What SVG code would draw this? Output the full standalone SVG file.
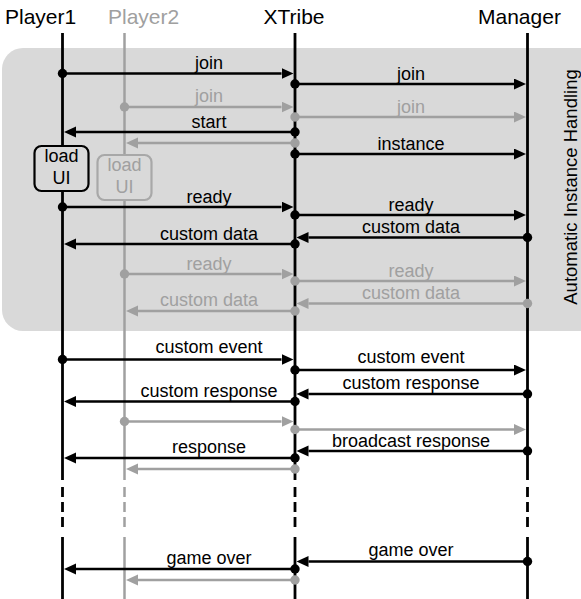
<svg xmlns="http://www.w3.org/2000/svg" width="581" height="599" viewBox="0 0 581 599">
<style>
text{font-family:"Liberation Sans",Arial,sans-serif;}
.hd{font-size:21px;fill:#000;}
.lb{font-size:18px;fill:#000;text-anchor:middle;}
.g{fill:#a0a0a0;}
.life{stroke:#000;stroke-width:2.8;fill:none;}
.lifeg{stroke:#a0a0a0;stroke-width:2.5;fill:none;}
.dash{stroke-dasharray:10 5;}
.m{stroke:#000;stroke-width:2.5;fill:none;marker-start:url(#dot);marker-end:url(#ah);}
.mg{stroke:#a0a0a0;stroke-width:2.5;fill:none;marker-start:url(#dotg);marker-end:url(#ahg);}
.box{fill:#d9d9d9;stroke:#000;stroke-width:2.2;}
.boxg{fill:#d9d9d9;stroke:#a8a8a8;stroke-width:2.2;}
</style>
<defs>
<marker id="ah" markerUnits="userSpaceOnUse" markerWidth="13" markerHeight="12" refX="0" refY="5.5" orient="auto"><path d="M0,0 L12,5.5 L0,11 z" fill="#000"/></marker>
<marker id="ahg" markerUnits="userSpaceOnUse" markerWidth="13" markerHeight="12" refX="0" refY="5.5" orient="auto"><path d="M0,0 L12,5.5 L0,11 z" fill="#a0a0a0"/></marker>
<marker id="dot" markerUnits="userSpaceOnUse" markerWidth="11" markerHeight="11" refX="5.5" refY="5.5"><circle cx="5.5" cy="5.5" r="4.7" fill="#000"/></marker>
<marker id="dotg" markerUnits="userSpaceOnUse" markerWidth="11" markerHeight="11" refX="5.5" refY="5.5"><circle cx="5.5" cy="5.5" r="4.7" fill="#a0a0a0"/></marker>
</defs>
<rect x="0" y="0" width="581" height="599" fill="#fff"/>
<g id="region">
<rect x="2" y="48" width="600" height="283" rx="21" fill="#d9d9d9"/>
<text transform="translate(577,187) rotate(-90)" style="font-size:18.5px;text-anchor:middle;fill:#000">Automatic Instance Handling</text>
</g>
<g id="player1">
<text class="hd" x="5" y="23.5">Player1</text>
<path class="life" d="M62.5,33V480"/><path class="life dash" d="M62.5,487V530"/><path class="life" d="M62.5,537V599"/>
</g>
<g id="player2">
<text class="hd g" x="108" y="23.5">Player2</text>
<path class="lifeg" d="M124.5,33V480"/><path class="lifeg dash" d="M124.5,487V530"/><path class="lifeg" d="M124.5,537V599"/>
</g>
<g id="xtribe">
<text class="hd" x="294" y="23.5" text-anchor="middle">XTribe</text>
<path class="life" d="M295,33V480"/><path class="life dash" d="M295,487V530"/><path class="life" d="M295,537V599"/>
</g>
<g id="manager">
<text class="hd" x="478" y="23.5">Manager</text>
<path class="life" d="M527.5,33V480"/><path class="life dash" d="M527.5,487V530"/><path class="life" d="M527.5,537V599"/>
</g>
<g id="loadui1">
<rect class="box" x="34.5" y="146" width="54" height="45" rx="7"/>
<text class="lb" x="61.5" y="161.5">load</text>
<text class="lb" x="61.5" y="183.5">UI</text>
</g>
<g id="loadui2">
<rect class="boxg" x="97.5" y="155" width="54" height="45" rx="7"/>
<text class="lb g" x="124.5" y="170.5">load</text>
<text class="lb g" x="124.5" y="192.5">UI</text>
</g>
<g id="connectors">
<path class="m" d="M62.5,73.5H281.5"/>
<path class="m" d="M295,84H514"/>
<path class="mg" d="M124.5,107H281.5"/>
<path class="mg" d="M295,117H514"/>
<path class="m" d="M295,132H76"/>
<path class="mg" d="M295,143H138"/>
<path class="m" d="M295,154H514"/>
<path class="m" d="M62.5,207H281.5"/>
<path class="m" d="M295,215H514"/>
<path class="m" d="M527.5,237.5H308.5"/>
<path class="m" d="M295,244H76"/>
<path class="mg" d="M124.5,274H281.5"/>
<path class="mg" d="M295,281H514"/>
<path class="mg" d="M527.5,303.5H308.5"/>
<path class="mg" d="M295,311H138"/>
<path class="m" d="M62.5,359.5H281.5"/>
<path class="m" d="M295,370H514"/>
<path class="m" d="M527.5,394H308.5"/>
<path class="m" d="M295,401.5H76"/>
<path class="mg" d="M124.5,421.5H281.5"/>
<path class="mg" d="M295,429.5H514"/>
<path class="m" d="M527.5,451H308.5"/>
<path class="m" d="M295,458H76"/>
<path class="mg" d="M295,469H138"/>
<path class="m" d="M527.5,561.5H308.5"/>
<path class="m" d="M295,569H76"/>
<path class="mg" d="M295,580H138"/>
</g>
<g id="labels">
<text class="lb" x="209" y="69">join</text>
<text class="lb" x="411" y="79.5">join</text>
<text class="lb g" x="209" y="102">join</text>
<text class="lb g" x="411" y="112.5">join</text>
<text class="lb" x="209" y="127.5">start</text>
<text class="lb" x="411" y="149.5">instance</text>
<text class="lb" x="209" y="202.5">ready</text>
<text class="lb" x="411" y="210.5">ready</text>
<text class="lb" x="411" y="232.5">custom data</text>
<text class="lb" x="209" y="239.5">custom data</text>
<text class="lb g" x="209" y="269.5">ready</text>
<text class="lb g" x="411" y="276.5">ready</text>
<text class="lb g" x="411" y="298.5">custom data</text>
<text class="lb g" x="209" y="305.5">custom data</text>
<text class="lb" x="209" y="353">custom event</text>
<text class="lb" x="411" y="363">custom event</text>
<text class="lb" x="411" y="389">custom response</text>
<text class="lb" x="209" y="396.5">custom response</text>
<text class="lb" x="411" y="446.5">broadcast response</text>
<text class="lb" x="209" y="453">response</text>
<text class="lb" x="411" y="556">game over</text>
<text class="lb" x="209" y="563.5">game over</text>
</g>
</svg>
